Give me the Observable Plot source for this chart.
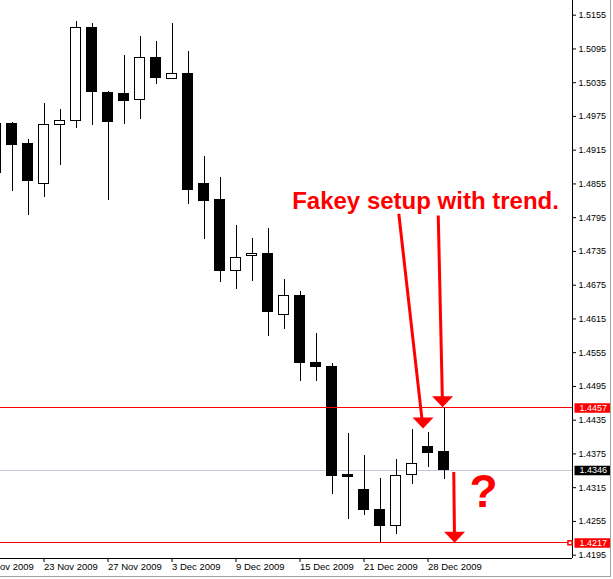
<!DOCTYPE html>
<html><head><meta charset="utf-8">
<script src="https://cdn.jsdelivr.net/npm/d3@7"></script>
<script src="https://cdn.jsdelivr.net/npm/@observablehq/plot@0.6"></script>
<style>
html,body{margin:0;padding:0;background:#fff;}
#wrap{position:relative;width:613px;height:579px;overflow:hidden;}
#wrap svg{display:block;}
.bdr-b{position:absolute;left:0;top:576px;width:611px;height:1px;background:#a0a0a0;}
.bdr-r{position:absolute;left:610px;top:0;width:1px;height:577px;background:#a0a0a0;}
</style></head><body><div id="wrap"><div class="bdr-b"></div><div class="bdr-r"></div></div>
<script>
// Daily EURUSD-style candles, 18 Nov 2009 .. 29 Dec 2009
const dates = ["18 Nov","19 Nov","20 Nov","23 Nov","24 Nov","25 Nov","26 Nov","27 Nov","30 Nov","1 Dec","2 Dec","3 Dec","4 Dec","7 Dec","8 Dec","9 Dec","10 Dec","11 Dec","14 Dec","15 Dec","16 Dec","17 Dec","18 Dec","21 Dec","22 Dec","23 Dec","24 Dec","28 Dec","29 Dec"];
const opens  = [1.4962,1.4962,1.4926,1.4854,1.4960,1.4966,1.5133,1.5017,1.5014,1.5005,1.5078,1.5042,1.5051,1.4855,1.4826,1.4701,1.4726,1.4731,1.4622,1.4656,1.4536,1.4530,1.4338,1.4310,1.4276,1.4247,1.4338,1.4388,1.4379];
const highs  = [1.4971,1.4964,1.4934,1.4998,1.4987,1.5144,1.5140,1.5019,1.5083,1.5117,1.5108,1.5140,1.5090,1.4904,1.4866,1.4781,1.4758,1.4775,1.4685,1.4664,1.4589,1.4535,1.4411,1.4372,1.4332,1.4365,1.4418,1.4413,1.4457];
const lows   = [1.4865,1.4842,1.4799,1.4831,1.4887,1.4954,1.4958,1.4826,1.4961,1.4970,1.5031,1.5042,1.4819,1.4756,1.4680,1.4667,1.4682,1.4584,1.4597,1.4503,1.4504,1.4303,1.4258,1.4266,1.4217,1.4232,1.4321,1.4351,1.4330];
const closes = [1.4874,1.4924,1.4860,1.4960,1.4967,1.5133,1.5018,1.4965,1.5002,1.5079,1.5043,1.5051,1.4844,1.4824,1.4700,1.4724,1.4731,1.4627,1.4656,1.4537,1.4530,1.4335,1.4334,1.4275,1.4247,1.4336,1.4357,1.4376,1.4346];

// axis ticks
const yTicks = [1.4195,1.4255,1.4315,1.4375,1.4435,1.4495,1.4555,1.4615,1.4675,1.4735,1.4795,1.4855,1.4915,1.4975,1.5035,1.5095,1.5155];
const xTickPos = [-1,3,7,11,15,19,23,27];
const xTickLabels = ["17 Nov 2009","23 Nov 2009","27 Nov 2009","3 Dec 2009","9 Dec 2009","15 Dec 2009","21 Dec 2009","28 Dec 2009"];

// price levels
const bidLevel = 1.4346;
const redLevels = [1.4457, 1.4217];

// annotations (data units: bar index, price)
const arrowStartX = [25.175, 27.64, 28.61];
const arrowStartY = [1.4802, 1.4799, 1.4343];
const arrowTipX   = [26.69, 27.91, 28.66];
const arrowTipY   = [1.4420, 1.4458, 1.4217];
const noteText = "Fakey setup with trend.";
const noteX = 18.51, noteY = 1.4810;
const qText = "?";
const qX = 30.47, qY = 1.4281;

const xDomain = [0.28125, 36.03125];
const yDomain = [1.41891, 1.51811];
const xMax = xDomain[1];
const bw = 0.3125;

const candles = dates.map((d, i) => ({i, date: d, open: opens[i], high: highs[i], low: lows[i], close: closes[i]}));
const up = candles.filter(d => d.close >= d.open);
const down = candles.filter(d => d.close < d.open);

const arrows = arrowStartX.map((x, k) => {
  const t = 1 - 0.0017 / (arrowStartY[k] - arrowTipY[k]);
  return {x1: x, y1: arrowStartY[k], x2: x + (arrowTipX[k] - x) * t, y2: arrowStartY[k] + (arrowTipY[k] - arrowStartY[k]) * t, tx: arrowTipX[k], ty: arrowTipY[k]};
});

const arrowHead = {draw(ctx) { ctx.moveTo(-10.5, -11); ctx.lineTo(10.5, -11); ctx.lineTo(0, 0); ctx.closePath(); }};
const boxSym = {draw(ctx) { ctx.rect(2, -4.5, 36, 9.5); }};

const chart = Plot.plot({
  width: 613, height: 579,
  marginLeft: 0, marginRight: 41, marginTop: 0, marginBottom: 21,
  x: {type: "linear", domain: xDomain, axis: null},
  y: {type: "linear", domain: yDomain, axis: null},
  style: {fontFamily: "'Liberation Sans', Arial, sans-serif", background: "white", color: "black"},
  marks: [
    Plot.ruleY([bidLevel], {stroke: "#c0c8d4", shapeRendering: "crispEdges"}),
    Plot.ruleX(candles, {x: "i", y1: "low", y2: "high", stroke: "black", strokeWidth: 1, shapeRendering: "crispEdges"}),
    Plot.rect(up, {x1: d => d.i - bw, x2: d => d.i + bw, y1: "open", y2: "close", fill: "white", stroke: "black", shapeRendering: "crispEdges"}),
    Plot.rect(down, {x1: d => d.i - bw, x2: d => d.i + bw, y1: "open", y2: "close", fill: "black", stroke: "black", shapeRendering: "crispEdges"}),
    Plot.ruleY(redLevels, {stroke: "red", shapeRendering: "crispEdges"}),
    Plot.ruleX([xMax], {stroke: "black", shapeRendering: "crispEdges"}),
    Plot.ruleY([yDomain[0]], {stroke: "black", shapeRendering: "crispEdges"}),
    Plot.axisY(yTicks, {anchor: "right", tickSize: 3, tickPadding: 3, tickFormat: d => d.toFixed(4), fontSize: 9, label: null}),
    Plot.axisX(xTickPos, {anchor: "bottom", tickSize: 4, tickPadding: 1, textAnchor: "start", tickFormat: d => xTickLabels[xTickPos.indexOf(d)], fontSize: 9.5, label: null}),
    Plot.dot(redLevels, {x: () => xMax, y: d => d, symbol: boxSym, fill: "red", stroke: null}),
    Plot.dot([bidLevel], {x: () => xMax, y: d => d, symbol: boxSym, fill: "black", stroke: null}),
    Plot.text([...redLevels, bidLevel], {x: () => xMax, y: d => d, text: d => d.toFixed(4), dx: 7, textAnchor: "start", fill: "white", fontSize: 9}),
    Plot.dot([redLevels[1]], {x: () => xMax, y: d => d, symbol: "square", r: 2.3, stroke: "red", fill: "white", dx: -2.5}),
    Plot.link(arrows, {x1: "x1", y1: "y1", x2: "x2", y2: "y2", stroke: "red", strokeWidth: 3}),
    Plot.dot(arrows, {x: "tx", y: "ty", symbol: arrowHead, fill: "red", stroke: null}),
    Plot.text([noteText], {x: () => noteX, y: () => noteY, text: d => d, textAnchor: "start", lineAnchor: "bottom", fill: "red", fontSize: 24, fontWeight: "bold"}),
    Plot.text([qText], {x: () => qX, y: () => qY, text: d => d, textAnchor: "middle", lineAnchor: "bottom", fill: "red", fontSize: 46, fontWeight: "bold"})
  ]
});
document.getElementById("wrap").prepend(chart);
</script>
</body></html>
